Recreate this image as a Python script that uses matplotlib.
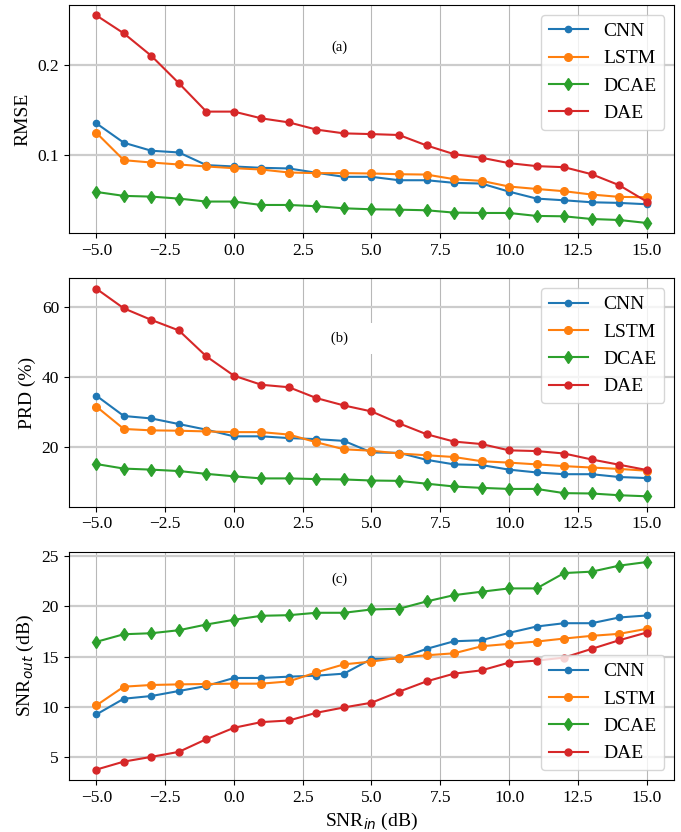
import numpy as np
import matplotlib
matplotlib.use("Agg")
import matplotlib.pyplot as plt
from matplotlib.ticker import MultipleLocator

plt.rcParams['font.family'] = ['Liberation Serif', 'DejaVu Serif']
plt.rcParams['mathtext.fontset'] = 'dejavusans'
plt.rcParams['axes.unicode_minus'] = True

snr_in = np.arange(-5, 16)

# RMSE
rmse_cnn = [0.135, 0.1134, 0.1045, 0.1026, 0.0885, 0.087, 0.0855, 0.0848, 0.080, 0.0755, 0.0755,
            0.0717, 0.0717, 0.0688, 0.068, 0.059, 0.0513, 0.0494, 0.0472, 0.0465, 0.045]
rmse_lstm = [0.1245, 0.094, 0.0914, 0.0892, 0.087, 0.0851, 0.0836, 0.0803, 0.0796, 0.0796, 0.0792,
             0.0784, 0.078, 0.0729, 0.071, 0.0647, 0.062, 0.0595, 0.0558, 0.0532, 0.0528]
rmse_dcae = [0.0587, 0.0543, 0.0535, 0.0513, 0.048, 0.048, 0.0442, 0.0442, 0.0428, 0.0405, 0.0394,
             0.039, 0.0383, 0.0357, 0.0353, 0.0353, 0.032, 0.0316, 0.0286, 0.0275, 0.0242]
rmse_dae = [0.255, 0.235, 0.210, 0.1796, 0.148, 0.148, 0.1405, 0.136, 0.128, 0.1238, 0.123,
            0.122, 0.1104, 0.1007, 0.0967, 0.0907, 0.0874, 0.0862, 0.0784, 0.0662, 0.048]

# PRD (%)
prd_cnn = [34.6, 28.8, 28.1, 26.5, 24.9, 23.0, 23.0, 22.5, 22.2, 21.7, 18.4,
           18.3, 16.3, 15.0, 14.8, 13.5, 12.7, 12.2, 12.2, 11.4, 11.1]
prd_lstm = [31.5, 25.1, 24.7, 24.6, 24.4, 24.2, 24.2, 23.5, 21.3, 19.3, 18.9,
            18.1, 17.6, 17.1, 15.9, 15.5, 15.0, 14.5, 14.1, 13.7, 13.2]
prd_dcae = [15.1, 13.8, 13.5, 13.1, 12.3, 11.6, 11.0, 11.0, 10.8, 10.7, 10.4,
            10.3, 9.5, 8.7, 8.3, 8.0, 8.0, 6.8, 6.7, 6.2, 5.9]
prd_dae = [65.1, 59.5, 56.2, 53.2, 45.8, 40.3, 37.7, 37.0, 33.9, 31.8, 30.1,
           26.7, 23.6, 21.5, 20.8, 19.0, 18.8, 18.1, 16.4, 14.9, 13.4]

# SNR_out (dB)
snr_cnn = [9.23, 10.8, 11.07, 11.57, 12.07, 12.87, 12.87, 13.0, 13.1, 13.3, 14.77,
           14.8, 15.77, 16.53, 16.63, 17.37, 18.0, 18.33, 18.33, 18.9, 19.1]
snr_lstm = [10.13, 12.0, 12.17, 12.23, 12.27, 12.3, 12.3, 12.53, 13.43, 14.23, 14.5,
            14.9, 15.13, 15.33, 16.03, 16.27, 16.5, 16.8, 17.07, 17.27, 17.77]
snr_dcae = [16.47, 17.23, 17.33, 17.63, 18.2, 18.67, 19.07, 19.13, 19.37, 19.37, 19.7,
            19.77, 20.5, 21.13, 21.47, 21.8, 21.8, 23.33, 23.47, 24.07, 24.43]
snr_dae = [3.73, 4.53, 5.0, 5.5, 6.77, 7.9, 8.47, 8.63, 9.4, 9.93, 10.4,
           11.5, 12.53, 13.3, 13.63, 14.4, 14.6, 14.9, 15.77, 16.63, 17.4]

models = ['CNN', 'LSTM', 'DCAE', 'DAE']
markers = {'CNN': ('o', 4.5), 'LSTM': ('o', 5.5), 'DCAE': ('d', 6), 'DAE': ('o', 5)}

# series, y label, y tick step, tag, tag height, legend position
panels = [
    ([rmse_cnn, rmse_lstm, rmse_dcae, rmse_dae], 'RMSE', 0.1, '(a)', 0.22, 'upper right'),
    ([prd_cnn, prd_lstm, prd_dcae, prd_dae], 'PRD (%)', 20, '(b)', 51, 'upper right'),
    ([snr_cnn, snr_lstm, snr_dcae, snr_dae], 'SNR$_{out}$ (dB)', 5, '(c)', 22.7, 'lower right'),
]

fig, axes = plt.subplots(3, 1, figsize=(6.81, 8.32), dpi=100)
fig.subplots_adjust(left=0.101, right=0.99, top=0.994, bottom=0.0625, hspace=0.197)

for ax, (series, ylabel, step, tag, tag_y, loc) in zip(axes, panels):
    for name, vals in zip(models, series):
        m, ms = markers[name]
        ax.plot(snr_in, vals, marker=m, markersize=ms, linewidth=1.5, label=name)
    ax.yaxis.set_major_locator(MultipleLocator(step))
    ax.xaxis.grid(True, color='#b8b8b8', linewidth=0.8)
    ax.yaxis.grid(True, color='#cccccc', linewidth=1.6)
    ax.set_axisbelow(True)
    ax.set_ylabel(ylabel, fontsize=14)
    ax.tick_params(labelsize=12.5)
    ax.legend(loc=loc, fontsize=14)
    if tag == '(b)':
        # white patch behind the tag cuts the grid line next to it
        ax.text(3.95, tag_y, '   ' + tag + '     ', ha='center', va='center', fontsize=10.5,
                bbox=dict(boxstyle='square,pad=0.6', facecolor='white', edgecolor='none'))
    else:
        ax.text(3.82, tag_y, tag, ha='center', va='center', fontsize=10.5)

axes[2].set_xlabel('SNR$_{in}$ (dB)', fontsize=14)

fig.savefig('out.png', dpi=100)
